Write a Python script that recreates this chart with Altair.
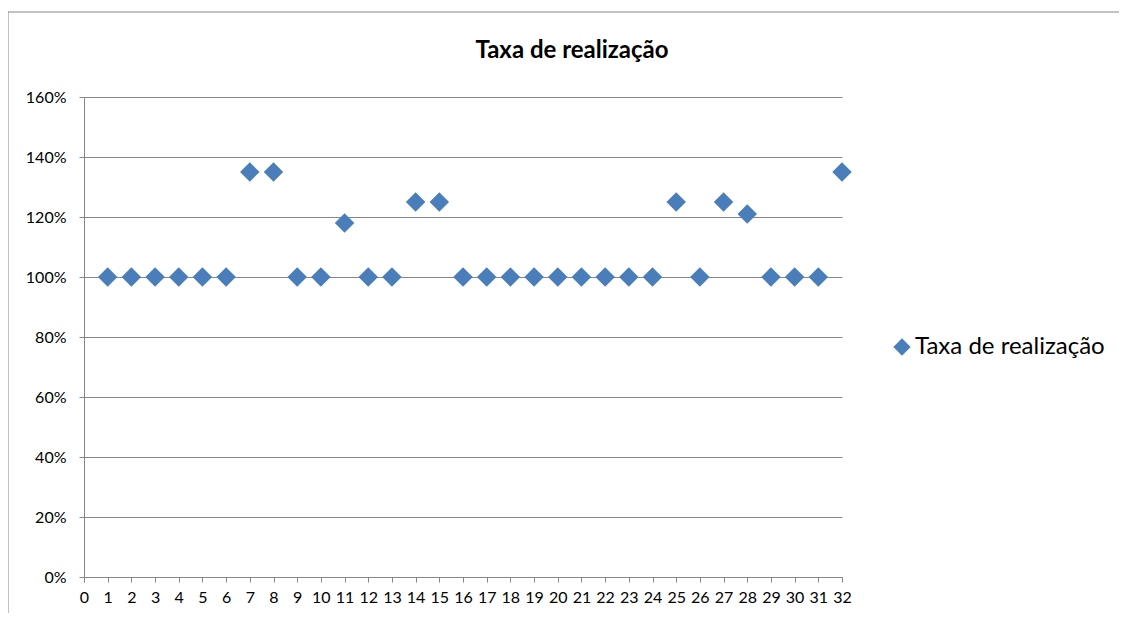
import altair as alt
import pandas as pd

x_vals = list(range(1, 33))
taxa = [1.00, 1.00, 1.00, 1.00, 1.00, 1.00, 1.35, 1.35, 1.00, 1.00,
        1.18, 1.00, 1.00, 1.25, 1.25, 1.00, 1.00, 1.00, 1.00, 1.00,
        1.00, 1.00, 1.00, 1.00, 1.25, 1.00, 1.25, 1.21, 1.00, 1.00,
        1.00, 1.35]
series_name = "Taxa de realização"
y_ticks = [0, 0.2, 0.4, 0.6, 0.8, 1.0, 1.2, 1.4, 1.6]
x_ticks = list(range(0, 33))

df = pd.DataFrame({"x": x_vals, "y": taxa, "serie": [series_name] * len(x_vals)})

FONT = "Lato"
GREY = "#868686"
BLUE = "#4A7EBB"

points = alt.Chart(df).mark_point(shape="diamond", filled=True, size=380, opacity=1).encode(
    x=alt.X("x:Q", scale=alt.Scale(domain=[0, 32], nice=False, zero=True),
            axis=alt.Axis(values=x_ticks, title=None, grid=False, tickSize=5,
                          tickColor=GREY, domainColor=GREY, labelFontSize=16,
                          labelPadding=7, labelFont=FONT, labelColor="#000000",
                          labelFlush=False, labelOverlap=False)),
    y=alt.Y("y:Q", scale=alt.Scale(domain=[0, 1.6], nice=False),
            axis=alt.Axis(values=y_ticks, format=".0%", title=None, grid=True,
                          gridColor=GREY, gridWidth=1, tickSize=5, tickColor=GREY,
                          domainColor=GREY, labelFontSize=16, labelPadding=13,
                          labelFont=FONT, labelColor="#000000")),
    color=alt.Color("serie:N", scale=alt.Scale(range=[BLUE]),
                    legend=alt.Legend(title=None, orient="none", legendX=806, legendY=238,
                                      symbolType="diamond", symbolSize=300,
                                      labelFontSize=24, labelFont=FONT, labelLimit=400,
                                      labelColor="#000000", padding=0, labelOffset=1)),
)

frame = alt.Chart(pd.DataFrame({"a": [0]})).mark_rect(
    fill="white", fillOpacity=0, stroke=GREY, strokeWidth=1
).encode(
    x=alt.value(-76), x2=alt.value(1300), y=alt.value(-85), y2=alt.value(800)
)

title = alt.Chart(pd.DataFrame({"t": [series_name]})).mark_text(
    font=FONT, fontSize=24, fontWeight="bold", color="#000000",
    align="center", baseline="middle"
).encode(text="t:N", x=alt.value(488), y=alt.value(-46))

chart = alt.layer(frame, title, points).properties(
    width=758, height=480,
    padding={"left": 76, "top": 89, "right": 277, "bottom": 36},
    autosize=alt.AutoSizeParams(type="none"),
).configure_view(stroke=None)

chart.save("out.html", embed_options={"renderer": "svg", "actions": False})
